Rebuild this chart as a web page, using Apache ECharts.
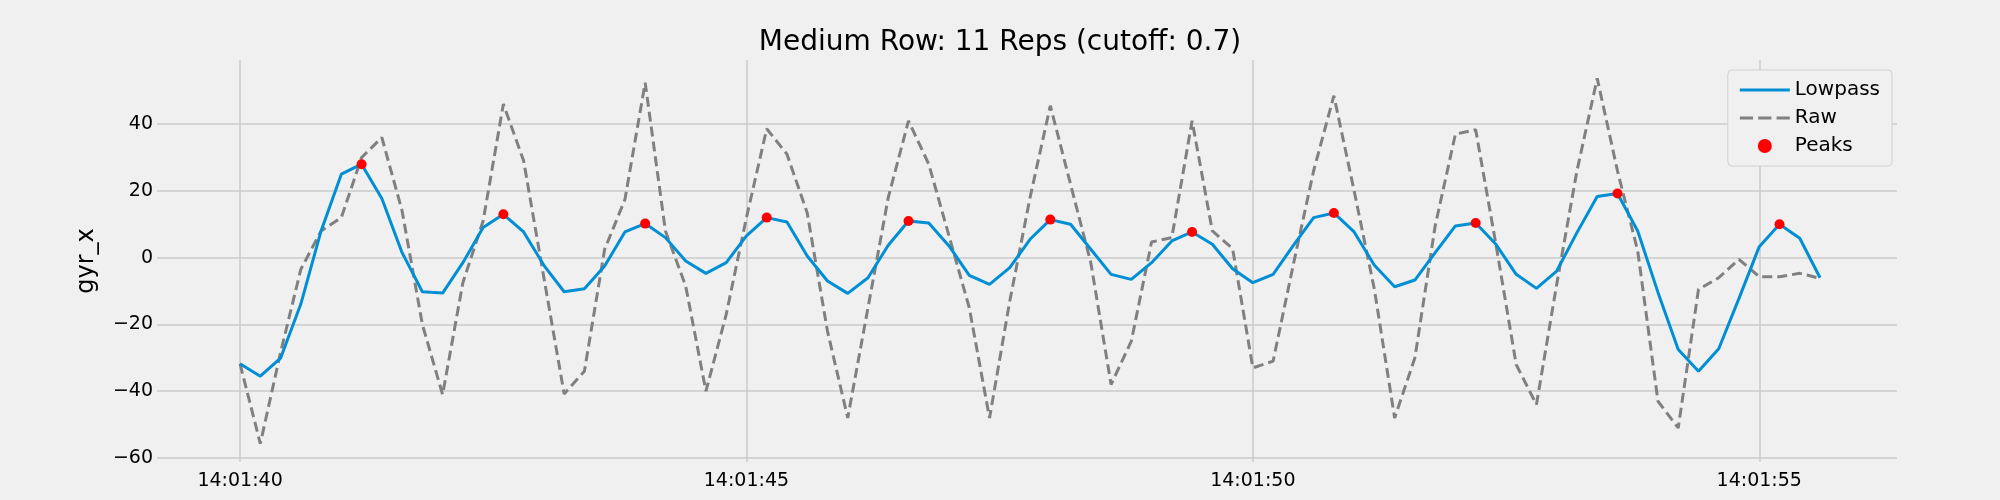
<!DOCTYPE html>
<html>
<head>
<meta charset="utf-8">
<script src="https://cdn.jsdelivr.net/npm/echarts@6/dist/echarts.min.js"></script>
<style>
  html, body { margin: 0; padding: 0; background: #f0f0f0; }
  #chart { width: 2000px; height: 500px; }
</style>
</head>
<body>
<div id="chart"></div>
<script>
// 采样起点 14:01:40，采样间隔 0.2 s
const START_LABEL = ['14:01:40', '14:01:45', '14:01:50', '14:01:55']
const X_TICKS = [0, 5, 10, 15]
const Y_TICKS = [-60, -40, -20, 0, 20, 40]
const SAMPLE_STEP = 0.2

const lowpass = [
  -31.8, -35.5, -30.1, -13.9, 8, 25, 28, 17.7, 1.5, -10.2,
  -10.6, -1.5, 9, 13, 7.7, -2.3, -10.2, -9.3, -2.5, 7.7,
  10.2, 6, -1, -4.7, -1.5, 6.5, 12, 10.7, 0.5, -7,
  -10.7, -6, 3.7, 11, 10.4, 3.5, -5.3, -8, -3, 5.5,
  11.4, 10, 2.5, -5, -6.5, -1.5, 5, 7.7, 4, -3.3,
  -7.5, -5, 3.7, 12, 13.4, 7.7, -2.3, -8.7, -6.7, 1.5,
  9.5, 10.4, 4, -5, -9.2, -4, 7.5, 18.3, 19.2, 8,
  -10.4, -27.5, -34, -27.3, -12.2, 3.3, 10, 5.8, -6
]

const raw = [
  -31.8, -55.7, -28.4, -3.5, 8, 12, 30, 36, 14, -20,
  -41, -7.5, 11, 46, 29, -6, -40.8, -34, 2.5, 17.4,
  52.4, 8, -8.5, -40, -17, 12, 38.6, 31, 13.4, -22,
  -48, -15, 18, 41, 28, 6.5, -15, -48, -13, 18,
  45.5, 22, -1.5, -38, -25, 4.7, 6, 41, 8, 2.7,
  -33, -31, -2, 26, 48.5, 20, -9.5, -48, -30, 9.5,
  37, 38.3, 4, -32, -44, -8, 26, 53.7, 26, 2,
  -43, -51, -9.5, -6, -0.5, -5.7, -5.7, -4.7, -6.2
]

const peakIdx = [6, 13, 20, 26, 33, 40, 47, 54, 61, 68, 76]

const t = (i) => +(i * SAMPLE_STEP).toFixed(2)
const lowpassData = lowpass.map((v, i) => [t(i), v])
const rawData = raw.map((v, i) => [t(i), v])
const peakData = peakIdx.map((i) => [t(i), lowpass[i]])

const chart = echarts.init(document.getElementById('chart'))

const FONT = 'DejaVu Sans'
const GRID_COLOR = '#cbcbcb'

chart.setOption({
  backgroundColor: '#f0f0f0',
  animation: false,
  textStyle: { fontFamily: FONT },
  title: {
    text: 'Medium Row: 11 Reps (cutoff: 0.7)',
    left: 'center',
    top: 24,
    textStyle: { fontSize: 28, fontWeight: 'normal', color: '#000', fontFamily: FONT },
  },
  grid: { left: 157, right: 103, top: 60, bottom: 38 },
  legend: {
    orient: 'vertical',
    right: 108,
    top: 70,
    padding: [10, 12, 10, 12],
    itemGap: 8,
    itemWidth: 50,
    itemHeight: 14,
    backgroundColor: '#f0f0f0',
    borderColor: '#d0d0d0',
    borderWidth: 1,
    borderRadius: 4,
    textStyle: { fontSize: 20, color: '#000', fontFamily: FONT },
    data: [
      { name: 'Lowpass', icon: 'path://M0,6 L50,6 L50,9 L0,9 Z' },
      { name: 'Raw', icon: 'path://M0,6 L13,6 L13,9 L0,9 Z M18,6 L31,6 L31,9 L18,9 Z M36,6 L49,6 L49,9 L36,9 Z' },
      { name: 'Peaks', icon: 'circle' },
    ],
  },
  xAxis: {
    type: 'value',
    min: -0.82,
    max: 16.36,
    axisLine: { show: false },
    axisTick: { show: false, customValues: X_TICKS },
    axisLabel: {
      customValues: X_TICKS,
      fontSize: 19,
      color: '#000',
      margin: 10,
      formatter: (v) => START_LABEL[X_TICKS.indexOf(Math.round(v))] || '',
    },
    splitLine: { show: true, lineStyle: { color: GRID_COLOR, width: 1.5 } },
  },
  yAxis: {
    type: 'value',
    min: -61.2,
    max: 59.2,
    name: 'gyr_x',
    nameLocation: 'middle',
    nameGap: 58,
    nameTextStyle: { fontSize: 24, color: '#000', fontFamily: FONT },
    axisLine: { show: false },
    axisTick: { show: false, customValues: Y_TICKS },
    axisLabel: {
      customValues: Y_TICKS,
      fontSize: 19,
      color: '#000',
      margin: 4,
      formatter: (v) => (v < 0 ? '\u2212' + Math.abs(v) : String(v)),
    },
    splitLine: { show: true, lineStyle: { color: GRID_COLOR, width: 1.5 } },
  },
  series: [
    {
      name: 'Lowpass',
      type: 'line',
      data: lowpassData,
      showSymbol: false,
      color: '#008fd5',
      lineStyle: { width: 3, color: '#008fd5' },
      z: 3,
    },
    {
      name: 'Raw',
      type: 'line',
      data: rawData,
      showSymbol: false,
      color: '#808080',
      lineStyle: { width: 3, type: [10, 5], color: '#808080' },
      z: 2,
    },
    {
      name: 'Peaks',
      type: 'scatter',
      data: peakData,
      symbolSize: 10,
      itemStyle: { color: '#ff0000', opacity: 1 },
      z: 4,
    },
  ],
})
</script>
</body>
</html>
